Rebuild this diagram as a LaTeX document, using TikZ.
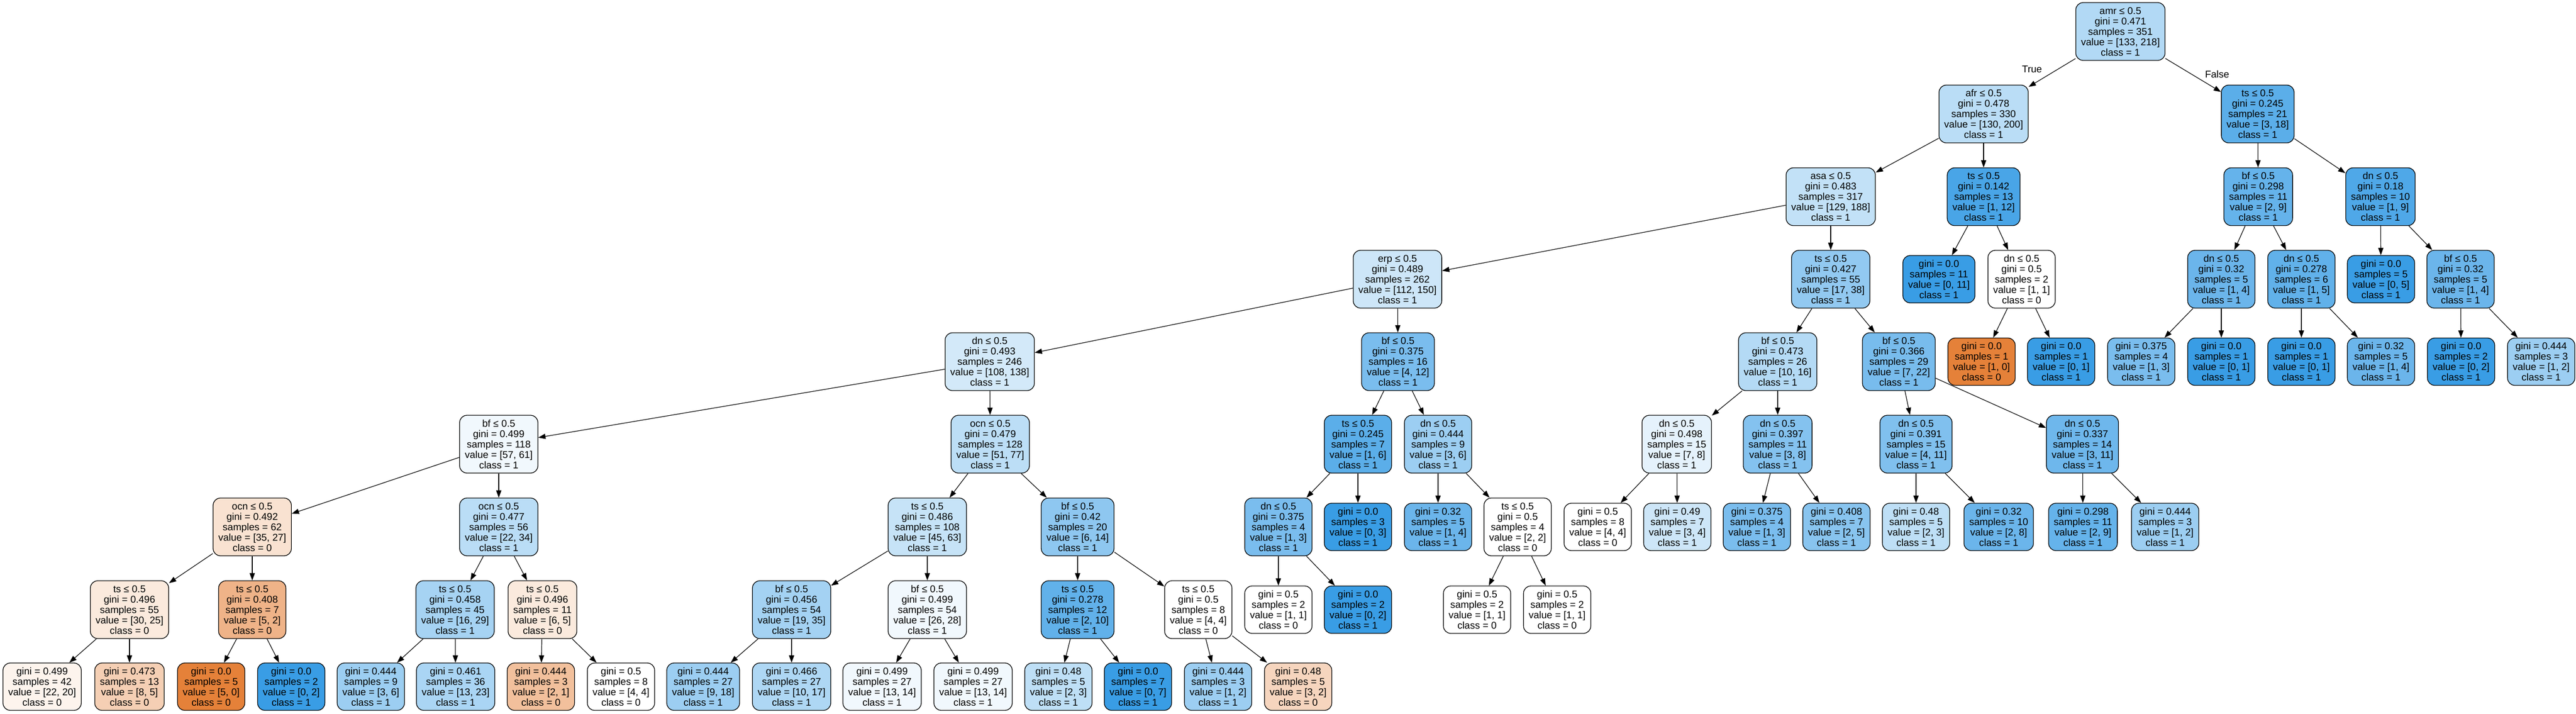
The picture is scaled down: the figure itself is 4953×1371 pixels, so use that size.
\documentclass[tikz,border=0pt]{standalone}
\usepackage{xcolor}
\usepackage{fontspec}
\setmainfont{Liberation Sans}
\usepackage{tikz}
\usetikzlibrary{arrows.meta}
\definecolor{c0}{RGB}{229,129,57}
\definecolor{c1}{RGB}{57,157,229}

\begin{document}
\begin{tikzpicture}[x=1pt,y=-1pt,
    every node/.style={font=\fontsize{19pt}{20pt}\selectfont},
    splitnode/.style={draw, line width=1.3pt, rounded corners=14pt, align=center,
      inner xsep=10pt, inner ysep=0pt, minimum height=111pt},
    leafnode/.style={splitnode, minimum height=91pt},
    arr/.style={line width=1.2pt, -{Triangle[length=14pt,width=10pt]}}]
  \useasboundingbox (0,0) rectangle (4953,1371);
  % level 0
  \node[splitnode, fill=c1!39] (n0) at (4077,60.5) {amr ≤ 0.5\\gini = 0.471\\samples = 351\\value = [133, 218]\\class = 1};
  % level 1
  \node[splitnode, fill=c1!35] (n1) at (3814,219) {afr ≤ 0.5\\gini = 0.478\\samples = 330\\value = [130, 200]\\class = 1};
  \node[splitnode, fill=c1!83] (n2) at (4341,219) {ts ≤ 0.5\\gini = 0.245\\samples = 21\\value = [3, 18]\\class = 1};
  % level 2
  \node[splitnode, fill=c1!31] (n3) at (3520,378) {asa ≤ 0.5\\gini = 0.483\\samples = 317\\value = [129, 188]\\class = 1};
  \node[splitnode, fill=c1!92] (n4) at (3814,378) {ts ≤ 0.5\\gini = 0.142\\samples = 13\\value = [1, 12]\\class = 1};
  \node[splitnode, fill=c1!78] (n5) at (4342,378) {bf ≤ 0.5\\gini = 0.298\\samples = 11\\value = [2, 9]\\class = 1};
  \node[splitnode, fill=c1!89] (n6) at (4577,378) {dn ≤ 0.5\\gini = 0.18\\samples = 10\\value = [1, 9]\\class = 1};
  % level 3
  \node[splitnode, fill=c1!25] (n7) at (2687,536.5) {erp ≤ 0.5\\gini = 0.489\\samples = 262\\value = [112, 150]\\class = 1};
  \node[splitnode, fill=c1!55] (n8) at (3520,536.5) {ts ≤ 0.5\\gini = 0.427\\samples = 55\\value = [17, 38]\\class = 1};
  \node[leafnode, fill=c1] (n9) at (3728,536.5) {gini = 0.0\\samples = 11\\value = [0, 11]\\class = 1};
  \node[splitnode, fill=white] (n10) at (3887,536.5) {dn ≤ 0.5\\gini = 0.5\\samples = 2\\value = [1, 1]\\class = 0};
  \node[splitnode, fill=c1!75] (n11) at (4271,536.5) {dn ≤ 0.5\\gini = 0.32\\samples = 5\\value = [1, 4]\\class = 1};
  \node[splitnode, fill=c1!80] (n12) at (4425,536.5) {dn ≤ 0.5\\gini = 0.278\\samples = 6\\value = [1, 5]\\class = 1};
  \node[leafnode, fill=c1] (n13) at (4578,536.5) {gini = 0.0\\samples = 5\\value = [0, 5]\\class = 1};
  \node[splitnode, fill=c1!75] (n14) at (4731,536.5) {bf ≤ 0.5\\gini = 0.32\\samples = 5\\value = [1, 4]\\class = 1};
  % level 4
  \node[splitnode, fill=c1!22] (n15) at (1903,695) {dn ≤ 0.5\\gini = 0.493\\samples = 246\\value = [108, 138]\\class = 1};
  \node[splitnode, fill=c1!67] (n16) at (2688,695) {bf ≤ 0.5\\gini = 0.375\\samples = 16\\value = [4, 12]\\class = 1};
  \node[splitnode, fill=c1!38] (n17) at (3418,695) {bf ≤ 0.5\\gini = 0.473\\samples = 26\\value = [10, 16]\\class = 1};
  \node[splitnode, fill=c1!68] (n18) at (3651,695) {bf ≤ 0.5\\gini = 0.366\\samples = 29\\value = [7, 22]\\class = 1};
  \node[leafnode, fill=c0] (n19) at (3810,695) {gini = 0.0\\samples = 1\\value = [1, 0]\\class = 0};
  \node[leafnode, fill=c1] (n20) at (3963,695) {gini = 0.0\\samples = 1\\value = [0, 1]\\class = 1};
  \node[leafnode, fill=c1!67] (n21) at (4117,695) {gini = 0.375\\samples = 4\\value = [1, 3]\\class = 1};
  \node[leafnode, fill=c1] (n22) at (4271,695) {gini = 0.0\\samples = 1\\value = [0, 1]\\class = 1};
  \node[leafnode, fill=c1] (n23) at (4425,695) {gini = 0.0\\samples = 1\\value = [0, 1]\\class = 1};
  \node[leafnode, fill=c1!75] (n24) at (4578,695) {gini = 0.32\\samples = 5\\value = [1, 4]\\class = 1};
  \node[leafnode, fill=c1] (n25) at (4732,695) {gini = 0.0\\samples = 2\\value = [0, 2]\\class = 1};
  \node[leafnode, fill=c1!50] (n26) at (4886,695) {gini = 0.444\\samples = 3\\value = [1, 2]\\class = 1};
  % level 5
  \node[splitnode, fill=c1!7] (n27) at (959,853.5) {bf ≤ 0.5\\gini = 0.499\\samples = 118\\value = [57, 61]\\class = 1};
  \node[splitnode, fill=c1!34] (n28) at (1904,853.5) {ocn ≤ 0.5\\gini = 0.479\\samples = 128\\value = [51, 77]\\class = 1};
  \node[splitnode, fill=c1!83] (n29) at (2611,853.5) {ts ≤ 0.5\\gini = 0.245\\samples = 7\\value = [1, 6]\\class = 1};
  \node[splitnode, fill=c1!50] (n30) at (2765,853.5) {dn ≤ 0.5\\gini = 0.444\\samples = 9\\value = [3, 6]\\class = 1};
  \node[splitnode, fill=c1!13] (n31) at (3224,853.5) {dn ≤ 0.5\\gini = 0.498\\samples = 15\\value = [7, 8]\\class = 1};
  \node[splitnode, fill=c1!62] (n32) at (3418,853.5) {dn ≤ 0.5\\gini = 0.397\\samples = 11\\value = [3, 8]\\class = 1};
  \node[splitnode, fill=c1!64] (n33) at (3684,853.5) {dn ≤ 0.5\\gini = 0.391\\samples = 15\\value = [4, 11]\\class = 1};
  \node[splitnode, fill=c1!73] (n34) at (4004,853.5) {dn ≤ 0.5\\gini = 0.337\\samples = 14\\value = [3, 11]\\class = 1};
  % level 6
  \node[splitnode, fill=c0!23] (n35) at (485,1012.5) {ocn ≤ 0.5\\gini = 0.492\\samples = 62\\value = [35, 27]\\class = 0};
  \node[splitnode, fill=c1!35] (n36) at (959,1012.5) {ocn ≤ 0.5\\gini = 0.477\\samples = 56\\value = [22, 34]\\class = 1};
  \node[splitnode, fill=c1!29] (n37) at (1783,1012.5) {ts ≤ 0.5\\gini = 0.486\\samples = 108\\value = [45, 63]\\class = 1};
  \node[splitnode, fill=c1!57] (n38) at (2072,1012.5) {bf ≤ 0.5\\gini = 0.42\\samples = 20\\value = [6, 14]\\class = 1};
  \node[splitnode, fill=c1!67] (n39) at (2458,1012.5) {dn ≤ 0.5\\gini = 0.375\\samples = 4\\value = [1, 3]\\class = 1};
  \node[leafnode, fill=c1] (n40) at (2611,1012.5) {gini = 0.0\\samples = 3\\value = [0, 3]\\class = 1};
  \node[leafnode, fill=c1!75] (n41) at (2765,1012.5) {gini = 0.32\\samples = 5\\value = [1, 4]\\class = 1};
  \node[splitnode, fill=white] (n42) at (2918,1012.5) {ts ≤ 0.5\\gini = 0.5\\samples = 4\\value = [2, 2]\\class = 0};
  \node[leafnode, fill=white] (n43) at (3072,1012.5) {gini = 0.5\\samples = 8\\value = [4, 4]\\class = 0};
  \node[leafnode, fill=c1!25] (n44) at (3225,1012.5) {gini = 0.49\\samples = 7\\value = [3, 4]\\class = 1};
  \node[leafnode, fill=c1!67] (n45) at (3378,1012.5) {gini = 0.375\\samples = 4\\value = [1, 3]\\class = 1};
  \node[leafnode, fill=c1!60] (n46) at (3531,1012.5) {gini = 0.408\\samples = 7\\value = [2, 5]\\class = 1};
  \node[leafnode, fill=c1!33] (n47) at (3684,1012.5) {gini = 0.48\\samples = 5\\value = [2, 3]\\class = 1};
  \node[leafnode, fill=c1!75] (n48) at (3843,1012.5) {gini = 0.32\\samples = 10\\value = [2, 8]\\class = 1};
  \node[leafnode, fill=c1!78] (n49) at (4005,1012.5) {gini = 0.298\\samples = 11\\value = [2, 9]\\class = 1};
  \node[leafnode, fill=c1!50] (n50) at (4163,1012.5) {gini = 0.444\\samples = 3\\value = [1, 2]\\class = 1};
  % level 7
  \node[splitnode, fill=c0!17] (n51) at (249,1171.5) {ts ≤ 0.5\\gini = 0.496\\samples = 55\\value = [30, 25]\\class = 0};
  \node[splitnode, fill=c0!60] (n52) at (485,1171.5) {ts ≤ 0.5\\gini = 0.408\\samples = 7\\value = [5, 2]\\class = 0};
  \node[splitnode, fill=c1!45] (n53) at (875,1171.5) {ts ≤ 0.5\\gini = 0.458\\samples = 45\\value = [16, 29]\\class = 1};
  \node[splitnode, fill=c0!17] (n54) at (1043,1171.5) {ts ≤ 0.5\\gini = 0.496\\samples = 11\\value = [6, 5]\\class = 0};
  \node[splitnode, fill=c1!46] (n55) at (1522,1171.5) {bf ≤ 0.5\\gini = 0.456\\samples = 54\\value = [19, 35]\\class = 1};
  \node[splitnode, fill=c1!7] (n56) at (1783,1171.5) {bf ≤ 0.5\\gini = 0.499\\samples = 54\\value = [26, 28]\\class = 1};
  \node[splitnode, fill=c1!80] (n57) at (2072,1171.5) {ts ≤ 0.5\\gini = 0.278\\samples = 12\\value = [2, 10]\\class = 1};
  \node[splitnode, fill=white] (n58) at (2304,1171.5) {ts ≤ 0.5\\gini = 0.5\\samples = 8\\value = [4, 4]\\class = 0};
  \node[leafnode, fill=white] (n59) at (2458,1171.5) {gini = 0.5\\samples = 2\\value = [1, 1]\\class = 0};
  \node[leafnode, fill=c1] (n60) at (2611,1171.5) {gini = 0.0\\samples = 2\\value = [0, 2]\\class = 1};
  \node[leafnode, fill=white] (n61) at (2840,1171.5) {gini = 0.5\\samples = 2\\value = [1, 1]\\class = 0};
  \node[leafnode, fill=white] (n62) at (2994,1171.5) {gini = 0.5\\samples = 2\\value = [1, 1]\\class = 0};
  % level 8
  \node[leafnode, fill=c0!9] (n63) at (81,1319.5) {gini = 0.499\\samples = 42\\value = [22, 20]\\class = 0};
  \node[leafnode, fill=c0!38] (n64) at (249,1319.5) {gini = 0.473\\samples = 13\\value = [8, 5]\\class = 0};
  \node[leafnode, fill=c0] (n65) at (406,1319.5) {gini = 0.0\\samples = 5\\value = [5, 0]\\class = 0};
  \node[leafnode, fill=c1] (n66) at (560,1319.5) {gini = 0.0\\samples = 2\\value = [0, 2]\\class = 1};
  \node[leafnode, fill=c1!50] (n67) at (713,1319.5) {gini = 0.444\\samples = 9\\value = [3, 6]\\class = 1};
  \node[leafnode, fill=c1!43] (n68) at (876,1319.5) {gini = 0.461\\samples = 36\\value = [13, 23]\\class = 1};
  \node[leafnode, fill=c0!50] (n69) at (1040,1319.5) {gini = 0.444\\samples = 3\\value = [2, 1]\\class = 0};
  \node[leafnode, fill=white] (n70) at (1194,1319.5) {gini = 0.5\\samples = 8\\value = [4, 4]\\class = 0};
  \node[leafnode, fill=c1!50] (n71) at (1352,1319.5) {gini = 0.444\\samples = 27\\value = [9, 18]\\class = 1};
  \node[leafnode, fill=c1!41] (n72) at (1522,1319.5) {gini = 0.466\\samples = 27\\value = [10, 17]\\class = 1};
  \node[leafnode, fill=c1!7] (n73) at (1696,1319.5) {gini = 0.499\\samples = 27\\value = [13, 14]\\class = 1};
  \node[leafnode, fill=c1!7] (n74) at (1871,1319.5) {gini = 0.499\\samples = 27\\value = [13, 14]\\class = 1};
  \node[leafnode, fill=c1!33] (n75) at (2035,1319.5) {gini = 0.48\\samples = 5\\value = [2, 3]\\class = 1};
  \node[leafnode, fill=c1] (n76) at (2188,1319.5) {gini = 0.0\\samples = 7\\value = [0, 7]\\class = 1};
  \node[leafnode, fill=c1!50] (n77) at (2342,1319.5) {gini = 0.444\\samples = 3\\value = [1, 2]\\class = 1};
  \node[leafnode, fill=c0!33] (n78) at (2496,1319.5) {gini = 0.48\\samples = 5\\value = [3, 2]\\class = 0};
  % edge labels
  \node (ltrue) at (3907,133) {True};
  \node (lfalse) at (4263,143) {False};
  % edges
  \draw[arr] (n0) -- (n1);
  \draw[arr] (n0) -- (n2);
  \draw[arr] (n1) -- (n3);
  \draw[arr] (n1) -- (n4);
  \draw[arr] (n2) -- (n5);
  \draw[arr] (n2) -- (n6);
  \draw[arr] (n3) -- (n7);
  \draw[arr] (n3) -- (n8);
  \draw[arr] (n4) -- (n9);
  \draw[arr] (n4) -- (n10);
  \draw[arr] (n5) -- (n11);
  \draw[arr] (n5) -- (n12);
  \draw[arr] (n6) -- (n13);
  \draw[arr] (n6) -- (n14);
  \draw[arr] (n7) -- (n15);
  \draw[arr] (n7) -- (n16);
  \draw[arr] (n8) -- (n17);
  \draw[arr] (n8) -- (n18);
  \draw[arr] (n10) -- (n19);
  \draw[arr] (n10) -- (n20);
  \draw[arr] (n11) -- (n21);
  \draw[arr] (n11) -- (n22);
  \draw[arr] (n12) -- (n23);
  \draw[arr] (n12) -- (n24);
  \draw[arr] (n14) -- (n25);
  \draw[arr] (n14) -- (n26);
  \draw[arr] (n15) -- (n27);
  \draw[arr] (n15) -- (n28);
  \draw[arr] (n16) -- (n29);
  \draw[arr] (n16) -- (n30);
  \draw[arr] (n17) -- (n31);
  \draw[arr] (n17) -- (n32);
  \draw[arr] (n18) -- (n33);
  \draw[arr] (n18) -- (n34);
  \draw[arr] (n27) -- (n35);
  \draw[arr] (n27) -- (n36);
  \draw[arr] (n28) -- (n37);
  \draw[arr] (n28) -- (n38);
  \draw[arr] (n29) -- (n39);
  \draw[arr] (n29) -- (n40);
  \draw[arr] (n30) -- (n41);
  \draw[arr] (n30) -- (n42);
  \draw[arr] (n31) -- (n43);
  \draw[arr] (n31) -- (n44);
  \draw[arr] (n32) -- (n45);
  \draw[arr] (n32) -- (n46);
  \draw[arr] (n33) -- (n47);
  \draw[arr] (n33) -- (n48);
  \draw[arr] (n34) -- (n49);
  \draw[arr] (n34) -- (n50);
  \draw[arr] (n35) -- (n51);
  \draw[arr] (n35) -- (n52);
  \draw[arr] (n36) -- (n53);
  \draw[arr] (n36) -- (n54);
  \draw[arr] (n37) -- (n55);
  \draw[arr] (n37) -- (n56);
  \draw[arr] (n38) -- (n57);
  \draw[arr] (n38) -- (n58);
  \draw[arr] (n39) -- (n59);
  \draw[arr] (n39) -- (n60);
  \draw[arr] (n42) -- (n61);
  \draw[arr] (n42) -- (n62);
  \draw[arr] (n51) -- (n63);
  \draw[arr] (n51) -- (n64);
  \draw[arr] (n52) -- (n65);
  \draw[arr] (n52) -- (n66);
  \draw[arr] (n53) -- (n67);
  \draw[arr] (n53) -- (n68);
  \draw[arr] (n54) -- (n69);
  \draw[arr] (n54) -- (n70);
  \draw[arr] (n55) -- (n71);
  \draw[arr] (n55) -- (n72);
  \draw[arr] (n56) -- (n73);
  \draw[arr] (n56) -- (n74);
  \draw[arr] (n57) -- (n75);
  \draw[arr] (n57) -- (n76);
  \draw[arr] (n58) -- (n77);
  \draw[arr] (n58) -- (n78);
\end{tikzpicture}
\end{document}
